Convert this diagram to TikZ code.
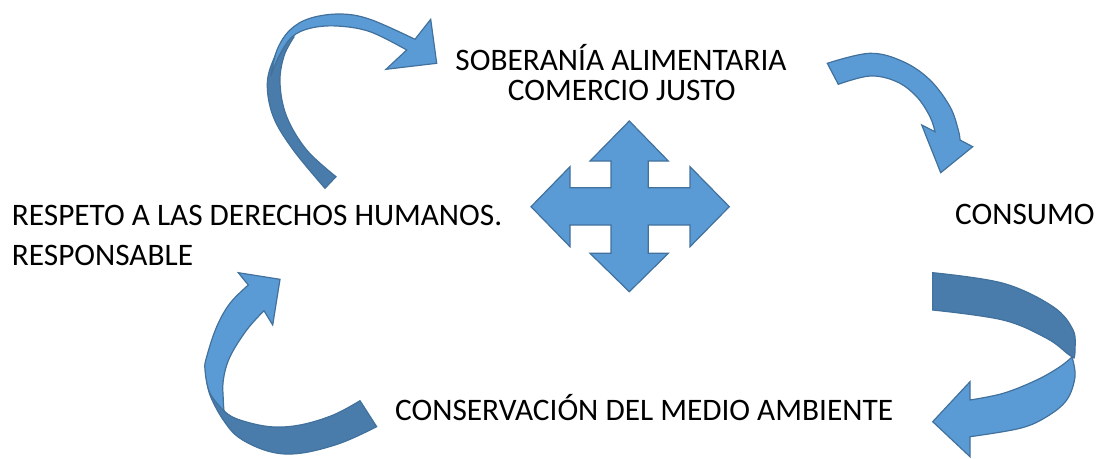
\documentclass[tikz,border=0pt]{standalone}
\usepackage{fontspec}
\setmainfont{Carlito}
\definecolor{aLight}{HTML}{5B9BD5}
\definecolor{aDark}{HTML}{497CAA}
\definecolor{aLine}{HTML}{41719C}
\begin{document}
\begin{tikzpicture}[x=1pt,y=-1pt,
  lightpart/.style={fill=aLight, draw=aLine, line width=1.2pt, line join=miter},
  darkpart/.style={fill=aDark, draw=aLine, line width=1.2pt, line join=miter},
  label/.style={inner sep=0pt, font=\fontsize{31.3}{37}\selectfont, text=black}]
\useasboundingbox (0,0) rectangle (1100,458);

% texts
\node[label, anchor=base] (sob) at (621,70) {SOBERANÍA ALIMENTARIA};
\node[label, anchor=base] (com) at (621.7,100.7) {COMERCIO JUSTO};
\node[label, anchor=base west] (res) at (11.7,225) {RESPETO A LAS DERECHOS HUMANOS.};
\node[label, anchor=base west] (resp) at (11.7,265) {RESPONSABLE};
\node[label, anchor=base west] (con) at (955,224) {CONSUMO};
\node[label, anchor=base west] (cons) at (395,420.7) {CONSERVACIÓN DEL MEDIO AMBIENTE};

% central four-way arrow
\filldraw[lightpart] (629.3,121) -- (668.3,161) -- (648.3,161) -- (648.3,187.7) -- (690,187.7)
  -- (690,166.7) -- (729.3,206.7) -- (690,246.7) -- (690,225) -- (648.3,225) -- (648.3,253.3)
  -- (668.3,253.3) -- (629.3,291.7) -- (590,253.3) -- (611,253.3) -- (611,225) -- (570,225)
  -- (570,246.7) -- (531,206.7) -- (570,166.7) -- (570,187.7) -- (611,187.7) -- (611,161)
  -- (590,161) -- cycle;

% arrow 1: top-left, towards SOBERANIA
\filldraw[darkpart] plot[smooth, tension=0.6] coordinates {(288,34) (275,56) (267.3,83.3) (273.3,116.7) (293.3,150) (325,188.3)}
  -- (336,176.7)
  -- plot[smooth, tension=0.6] coordinates {(336,176.7) (306.7,150) (286.7,116.7) (280,83.3) (284,56) (294,37)} -- cycle;
\filldraw[lightpart] plot[smooth, tension=0.6] coordinates {(271,76) (277,50) (290,30) (310,18.3) (340,14) (370,19.3) (415,39.3)}
  -- (430.7,19.3) -- (436.7,63.3) -- (386,69.3) -- (406.7,50)
  -- plot[smooth, tension=0.6] coordinates {(406.7,50) (370,31.7) (336.7,26) (310,28.3) (292,37) (279,56) (271,76)} -- cycle;

% arrow 2: top-right, towards CONSUMO
\filldraw[lightpart] plot[smooth, tension=0.6] coordinates {(827.3,63.3) (870,53.3) (903.3,61.7) (930,80) (950,106.7) (958.3,130) (960,140)}
  -- (972.7,146.7) -- (940.7,172.7) -- (921.7,125) -- (935,131.7)
  -- plot[smooth, tension=0.6] coordinates {(935,131.7) (930,116.7) (916.7,96.7) (896.7,81.7) (870,76) (838.3,84.3)} -- cycle;

% arrow 3: right, towards CONSERVACION
\filldraw[darkpart] plot[smooth, tension=0.6] coordinates {(932.7,272.7) (1003.3,283.3) (1053,306.7) (1073,330) (1075,350) (1074,358)}
  -- plot[smooth, tension=0.6] coordinates {(1074,358) (1068,354) (1046.7,338.3) (1003,320) (932.7,310)} -- cycle;
\filldraw[lightpart] plot[smooth, tension=0.6] coordinates {(1072,357) (1075,376.7) (1066.7,400) (1046.7,416.7) (1020,428.3) (970,436.7)}
  -- (970,456.7) -- (932.7,421.7) -- (970,381.7) -- (970,400)
  -- plot[smooth, tension=0.6] coordinates {(970,400) (1003.3,393.3) (1036.7,380) (1060,366.7) (1072,357)} -- cycle;

% arrow 4: bottom-left, towards RESPETO
\filldraw[darkpart] plot[smooth, tension=0.6] coordinates {(206,375) (210,395) (223.3,420) (240,438.3) (270,451.7) (300,453.3) (340,443.3) (376.7,426.7)}
  -- (360,400.7)
  -- plot[smooth, tension=0.6] coordinates {(360,400.7) (333.3,415) (300,425) (270,426.7) (240,420) (225,411.7) (215,397) (208,382)} -- cycle;
\filldraw[lightpart] plot[smooth, tension=0.6] coordinates {(224,411) (210,393.3) (205,370) (206.7,356.7) (216.7,326.7) (230,303.3) (248.3,285)}
  -- (238.3,272.7) -- (280,279.3) -- (272.7,325) -- (264,310.7)
  -- plot[smooth, tension=0.6] coordinates {(264,310.7) (246.7,330) (230,356.7) (223.3,380) (223.3,400) (224,411)} -- cycle;
\end{tikzpicture}
\end{document}
